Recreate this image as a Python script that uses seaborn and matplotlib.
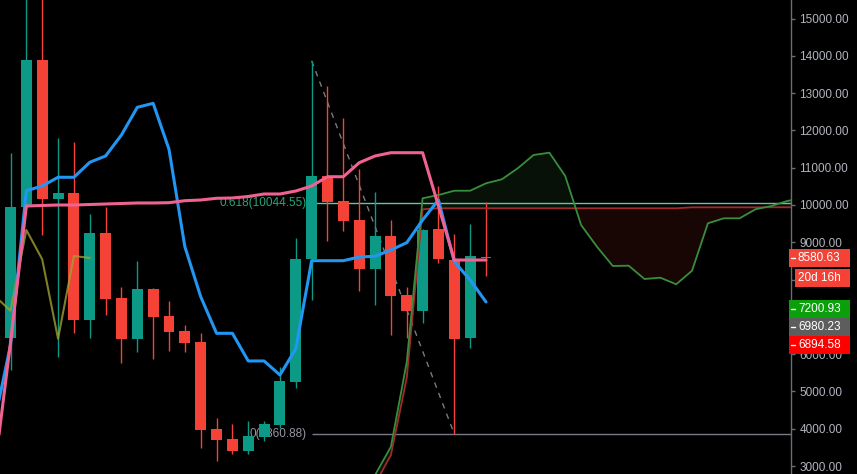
import numpy as np
import pandas as pd
import seaborn as sns
import matplotlib.pyplot as plt
from matplotlib.patches import Rectangle
from matplotlib.lines import Line2D

# weekly candles
opens = [6442, 9938, 13888, 10153, 10322, 6925, 9241, 7507, 6399, 7740, 7024, 6622, 6327, 3986, 3718, 3413,
         3788, 4102, 5263, 8552, 10778, 10107, 9598, 8292, 9169, 7587, 7166, 9357, 8525, 6442, 8606]
highs = [11402, 15600, 15600, 11804, 11697, 9759, 9955, 7794, 8491, 7767, 7426, 6783, 6560, 4290, 4120, 4209,
         4200, 5665, 9107, 13866.82, 13190, 12324, 10965, 10340, 9598, 7794, 9350, 10509, 9223, 9490, 10080]
lows = [5576, 9900, 9196, 5933, 6560, 6426, 7051, 5772, 6067, 5871, 6094, 6067, 3493, 3145, 3324, 3324,
        3681, 4013, 5100, 7453, 9043, 9311, 7703, 7319, 6515, 6426, 6845, 8437, 3860.88, 6158, 8097]
closes = [9955, 13888, 10153, 10322, 6925, 9241, 7488, 6399, 7740, 7005, 6604, 6309, 3976, 3708, 3413, 3807,
          4129, 5282, 8552, 10778, 10088, 9579, 8292, 9169, 7560, 7166, 9330, 8544, 6416, 8633, 8580.63]

# conversion (blue) and base (pink) lines, index -1 .. 30
line_idx = list(range(-1, 31))
conversion = [4209, 6247, 10383, 10509, 10743, 10743, 11145, 11314, 11877, 12619, 12726, 11493, 8882, 7542,
              6560, 6560, 5818, 5818, 5442, 6145, 8507, 8507, 8507, 8606, 8625, 8794, 8990, 9598, 10134, 8480,
              7990, 7400]
base = [2909, 6308, 9973, 9987, 10000, 10000, 10013, 10027, 10040, 10054, 10054, 10062, 10115, 10134, 10180,
        10188, 10228, 10295, 10295, 10375, 10509, 10758, 10758, 11134, 11314, 11402, 11402, 11402, 9973, 8525,
        8525, 8525]

# leading spans (cloud), index 22 .. 50
span_idx = list(range(22, 51))
span_a = [1900, 2760, 3520, 5791, 10180, 10268, 10383, 10383, 10582, 10689, 10984, 11341, 11402, 10777, 9464,
          8882, 8365, 8373, 8016, 8051, 7874, 8239, 9509, 9643, 9643, 9885, 9973, 10107, 10188]
span_b = [1600, 2520, 3298, 5362, 9885] + [9912] * 16 + [9938] * 8

lag = 25
fib_high = 13866.82
fib_low = 3860.88
fib_levels = [0, 0.618]

price_labels = ['8580.63', '20d 16h', '7200.93', '6980.23', '6894.58']
price_values = [8580.63, None, 7200.93, 6980.23, 6894.58]

yticks = list(range(3000, 16000, 1000))
hidden_ticks = [7000, 8000]  # covered by the price boxes

GREEN = '#0c9a87'
RED = '#f44336'

sns.set_theme(style='dark', rc={'axes.facecolor': 'black', 'figure.facecolor': 'black',
                                'axes.grid': False})
plt.rcParams['font.family'] = ['Liberation Sans', 'DejaVu Sans']

W, H = 857, 474
fig = plt.figure(figsize=(W / 100, H / 100), dpi=100)
ax = fig.add_axes([0, 0, 791 / W, 1])
xmax = 49.243
ax.set_xlim(-0.6625, xmax)
ax.set_ylim(2788, 15496)

# cloud
sa = np.array(span_a, float)
sb = np.array(span_b, float)
ax.fill_between(span_idx, sa, sb, where=sa >= sb, interpolate=True, color='#43a047', alpha=0.11, lw=0, zorder=1)
ax.fill_between(span_idx, sa, sb, where=sa < sb, interpolate=True, color='#f44336', alpha=0.1, lw=0, zorder=1)

# fib retracement
fib_vals = [fib_low + l * (fib_high - fib_low) for l in fib_levels]
fib_cols = ['#787b86', '#5cc9a7']
fib_txt = ['#9598a1', '#27a67a']
for lvl, v, lc, tc in zip(fib_levels, fib_vals, fib_cols, fib_txt):
    ax.hlines(v, 19, xmax, color=lc, lw=1, zorder=1)
    ax.annotate(f'{lvl:g}({v:.2f})', xy=(19, v), xytext=(-5, 0), textcoords='offset pixels',
                ha='right', va='center', color=tc, fontsize=8.5, zorder=1)
ax.plot([19, 28], [fib_high, fib_low], color='#787b86', lw=1, ls=(0, (4, 4)), zorder=1)

# candles
df = pd.DataFrame(dict(i=range(len(opens)), o=opens, h=highs, l=lows, c=closes))
cols = np.where(df.c >= df.o, GREEN, RED)
ax.vlines(df.i, df.l, df.h, colors=cols, lw=1, zorder=3)
ax.bar(df.i, (df.c - df.o).abs().clip(lower=30), bottom=np.minimum(df.o, df.c), width=0.69,
       color=cols, lw=0, zorder=3)

# lines
sns.lineplot(x=span_idx, y=span_b, ax=ax, color='#a32a2a', lw=1.3, sort=False, estimator=None, zorder=4)
sns.lineplot(x=span_idx, y=span_a, ax=ax, color='#388e3c', lw=1.3, sort=False, estimator=None, zorder=4)
lag_x = [i - lag for i in range(lag - 1, len(closes))]
lag_y = closes[lag - 1:]
sns.lineplot(x=lag_x, y=lag_y, ax=ax, color='#a0a030', alpha=0.8, lw=1.5, sort=False, estimator=None, zorder=4)
sns.lineplot(x=line_idx, y=conversion, ax=ax, color='#2196f3', lw=2.2, sort=False, estimator=None, zorder=5)
sns.lineplot(x=line_idx, y=base, ax=ax, color='#f06292', lw=2.2, sort=False, estimator=None, zorder=6)

# right price axis
ax.yaxis.tick_right()
ax.set_yticks(yticks)
ax.set_yticklabels(['' if v in hidden_ticks else f'{v:.2f}' for v in yticks])
ax.tick_params(axis='y', which='both', right=True, length=3, width=1, pad=3,
               colors='#6a6d78', labelcolor='#b2b5be', labelsize=8.5)
ax.set_xticks([])
ax.set_xlabel('')
ax.set_ylabel('')
for s in ['left', 'top', 'bottom']:
    ax.spines[s].set_visible(False)
ax.spines['right'].set_color('#6a6d78')
ax.spines['right'].set_linewidth(1)

# price boxes on the axis, stacked so they do not overlap
box_cols = [RED, RED, '#0b9f0b', '#5d5d5d', '#ff0000']
box_h = 18
prev_bot = -100
for txt, v, bc in zip(price_labels, price_values, box_cols):
    if v is None:
        top = prev_bot + 2
        x0 = 795
    else:
        cy = H - ax.transData.transform((0, v))[1]
        top = max(cy - box_h / 2, prev_bot)
        x0 = 789
    bot = top + box_h
    fig.add_artist(Rectangle((x0 / W, 1 - bot / H), (850 - x0) / W, box_h / H,
                             transform=fig.transFigure, color=bc, lw=0, zorder=5))
    if v is not None:
        fig.add_artist(Line2D([791 / W, 795 / W], [1 - (top + box_h / 2) / H] * 2,
                              transform=fig.transFigure, color='white', lw=1, zorder=6))
    fig.text(798 / W, 1 - (top + box_h / 2) / H, txt, color='white', fontsize=8.5,
             ha='left', va='center', zorder=7)
    prev_bot = bot

fig.savefig('out.png', dpi=100, facecolor='black')
